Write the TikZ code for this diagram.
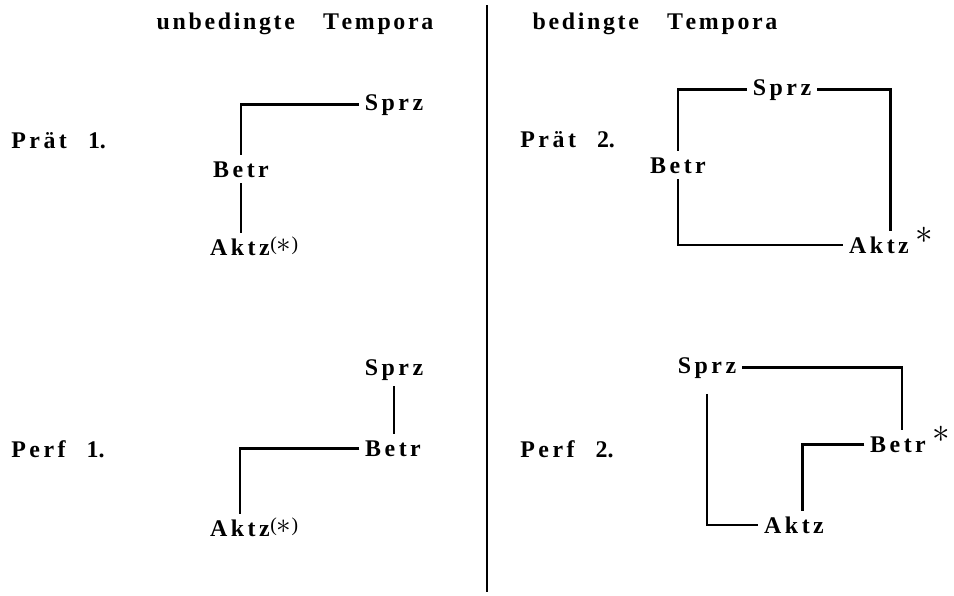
\documentclass[tikz,border=0pt]{standalone}
\usepackage{fontspec}
\setmainfont{Liberation Serif}
\usepackage{tikz}
\usetikzlibrary{positioning}

% letter-spaced words
\newdimen\spcgap \spcgap=2.5pt
\newcommand\spc[1]{\spcA#1\relax}
\def\spcA#1#2{#1\ifx\relax#2\else\kern\spcgap\expandafter\spcA\expandafter#2\fi}
\newcommand\hspc[1]{{\spcgap=1.9pt\relax\spc{#1}}}
\newcommand\pstar{\raisebox{3pt}{\fontsize{14}{14}\selectfont(\raisebox{-1.5pt}{\fontsize{20}{20}\selectfont$\ast$})}}
\newcommand\bigast{\raisebox{7pt}{\fontsize{24}{24}\selectfont$\ast$}}

\begin{document}
\begin{tikzpicture}[x=0.025cm, y=-0.025cm,
    word/.style={font=\bfseries\fontsize{17}{20}\selectfont, inner sep=4pt, anchor=base},
    head/.style={font=\bfseries\fontsize{17}{20}\selectfont, inner sep=0pt, anchor=base},
    tag/.style={font=\bfseries\fontsize{17}{20}\selectfont, inner sep=0pt, anchor=base west},
    astx/.style={inner sep=0pt},
    link/.style={line width=1.8pt}
]
\useasboundingbox (0,0) rectangle (954,595);

% headings and divider
\node[head] (hleft) at (295,29) {\hspc{unbedingte}\hspace{20pt}\hspc{Tempora}};
\node[head] (hright) at (655,29) {\hspc{bedingte}\hspace{20pt}\hspc{Tempora}};
\draw[line width=1.4pt] (487,5) -- (487,592);

% row labels
\node[tag] (praet1) at (11,148) {\spc{Prät}\hspace{15pt}1.};
\node[tag] (perf1) at (11,457) {\spc{Perf}\hspace{15pt}1.};
\node[tag] (praet2) at (520,147) {\spc{Prät}\hspace{15pt}2.};
\node[tag] (perf2) at (520,457) {\spc{Perf}\hspace{15pt}2.};

% Praet 1
\node[word] (sprzA) at (394,110) {\spc{Sprz}};
\node[word] (betrA) at (241,177) {\spc{Betr}};
\node[word] (aktzA) at (240,255) {\spc{Aktz}};
\node[astx, base right=-4pt of aktzA] (astA) {\pstar};
\draw[link] (sprzA.west) -| (betrA.north);
\draw[link] (betrA.south) -- (betrA.south |- aktzA.north);

% Praet 2
\node[word] (sprzB) at (782,95) {\spc{Sprz}};
\node[word] (betrB) at (678,173) {\spc{Betr}};
\node[word] (aktzB) at (879,253) {\spc{Aktz}};
\node[astx, base right=0pt of aktzB] (astB) {\bigast};
\draw[link] (sprzB.west) -| (betrB.north);
\draw[link] (sprzB.east) -| ([xshift=8pt]aktzB.north);
\draw[link] (betrB.south) |- (aktzB.west);

% Perf 1
\node[word] (sprzC) at (394,375) {\spc{Sprz}};
\node[word] (betrC) at (393,456) {\spc{Betr}};
\node[word] (aktzC) at (240,536) {\spc{Aktz}};
\node[astx, base right=-4pt of aktzC] (astC) {\pstar};
\draw[link] (sprzC.south) -- (sprzC.south |- betrC.north);
\draw[link] (betrC.west) -| (aktzC.north);

% Perf 2
\node[word] (sprzD) at (707,373) {\spc{Sprz}};
\node[word] (betrD) at (898,452) {\spc{Betr}};
\node[word] (aktzD) at (794,533) {\spc{Aktz}};
\node[astx, base right=0pt of betrD] (astD) {\bigast};
\draw[link] (sprzD.east) -| ([xshift=3pt]betrD.north);
\draw[link] (betrD.west) -| ([xshift=6pt]aktzD.north);
\draw[link, shorten <=7pt] (sprzD.south) |- (aktzD.west);
\end{tikzpicture}
\end{document}
